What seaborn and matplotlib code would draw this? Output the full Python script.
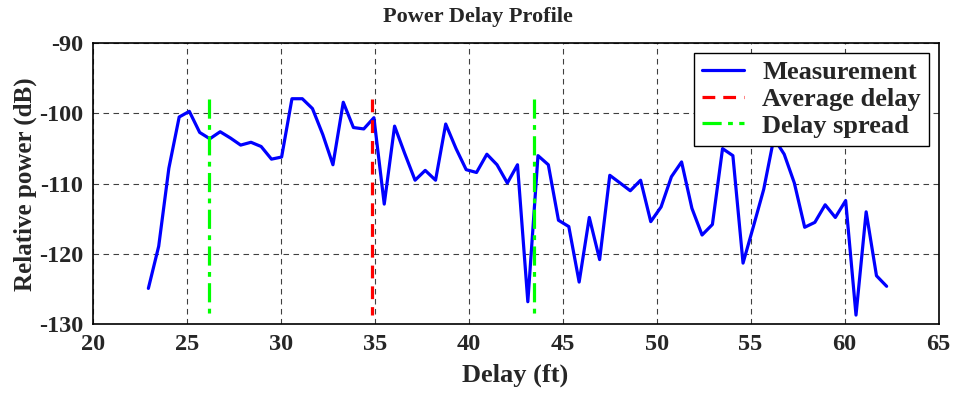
import numpy as np
import pandas as pd
import matplotlib
matplotlib.use("Agg")
import matplotlib.pyplot as plt
import seaborn as sns

delay_ft = [22.96, 23.51, 24.05, 24.60, 25.14, 25.69, 26.23, 26.78, 27.33, 27.87,
            28.42, 28.96, 29.51, 30.05, 30.60, 31.15, 31.69, 32.24, 32.78, 33.33,
            33.87, 34.42, 34.96, 35.51, 36.06, 36.60, 37.15, 37.69, 38.24, 38.78,
            39.33, 39.87, 40.42, 40.97, 41.51, 42.06, 42.60, 43.15, 43.69, 44.24,
            44.78, 45.33, 45.88, 46.42, 46.97, 47.51, 48.06, 48.60, 49.15, 49.69,
            50.24, 50.79, 51.33, 51.88, 52.42, 52.97, 53.51, 54.06, 54.60, 55.15,
            55.70, 56.24, 56.79, 57.33, 57.88, 58.42, 58.97, 59.51, 60.06, 60.61,
            61.15, 61.70, 62.24]
power_db = [-124.9, -118.9, -107.8, -100.5, -99.7, -102.7, -103.6, -102.6, -103.5, -104.5,
            -104.1, -104.7, -106.5, -106.2, -97.9, -97.9, -99.3, -103.0, -107.3, -98.4,
            -102.0, -102.2, -100.6, -112.9, -101.8, -105.7, -109.5, -108.1, -109.5, -101.5,
            -105.0, -108.0, -108.4, -105.8, -107.3, -109.9, -107.3, -126.8, -106.0, -107.3,
            -115.2, -116.1, -124.0, -114.8, -120.8, -108.8, -109.9, -111.0, -109.5, -115.4,
            -113.3, -109.0, -106.9, -113.5, -117.3, -115.8, -105.0, -106.0, -121.3, -116.1,
            -110.8, -103.5, -105.8, -109.9, -116.2, -115.5, -113.0, -114.8, -112.4, -128.7,
            -114.0, -123.1, -124.6]
avg_delay = 34.84
spread_lo = 26.19
spread_hi = 43.48
marker_top = -97.9
marker_bottom = -128.7

sns.set_style("white")
plt.rcParams['font.family'] = ['Liberation Serif', 'DejaVu Serif']
plt.rcParams['font.weight'] = 'bold'
plt.rcParams['axes.unicode_minus'] = False

fig = plt.figure(figsize=(9.56, 3.93), dpi=100)
ax = fig.add_axes([0.097, 0.175, 0.8847, 0.715])

df = pd.DataFrame({"Delay": delay_ft, "Power": power_db})
sns.lineplot(data=df, x="Delay", y="Power", ax=ax, color=(0, 0, 1), linewidth=2.3,
             label="Measurement", zorder=3)
df_avg = pd.DataFrame({"Delay": [avg_delay, avg_delay], "Power": [marker_top, marker_bottom]})
sns.lineplot(data=df_avg, x="Delay", y="Power", ax=ax, color=(1, 0, 0), linewidth=2.3,
             label="Average delay", zorder=4, estimator=None, sort=False)
ax.lines[-1].set_dashes([4, 2.5])
for i, xv in enumerate([spread_lo, spread_hi]):
    df_sp = pd.DataFrame({"Delay": [xv, xv], "Power": [marker_top, marker_bottom]})
    sns.lineplot(data=df_sp, x="Delay", y="Power", ax=ax, color=(0, 1, 0), linewidth=2.3,
                 label="Delay spread" if i == 0 else None, zorder=4, estimator=None, sort=False)
    ax.lines[-1].set_dashes([6, 2, 1.5, 2])

ax.set_xlim(20, 65)
ax.set_ylim(-130, -90)
ax.set_xticks([20, 25, 30, 35, 40, 45, 50, 55, 60, 65])
ax.set_yticks([-130, -120, -110, -100, -90])
ax.grid(True, color='black', linestyle=(0, (5, 4)), linewidth=0.8, alpha=0.75)
ax.tick_params(direction='in', length=5, labelsize=17.5, width=1, pad=7)
for lab in ax.get_xticklabels() + ax.get_yticklabels():
    lab.set_fontweight('bold')
for s in ax.spines.values():
    s.set_color('black')
    s.set_linewidth(1.2)

ax.set_xlabel("Delay (ft)", fontsize=19, fontweight='bold', labelpad=6)
ax.set_ylabel("Relative power (dB)", fontsize=18, fontweight='bold', labelpad=1)
ax.set_title("Power Delay Profile", fontsize=16, fontweight='bold', pad=15, x=0.4556)

handles, labels = ax.get_legend_handles_labels()
leg = ax.legend(handles, labels, loc='upper right', frameon=True,
                fancybox=False, edgecolor='black', framealpha=1,
                borderpad=0.3, labelspacing=0.12, handlelength=1.6, handletextpad=0.7,
                borderaxespad=0,
                bbox_to_anchor=(0.9888, 0.9655), prop={'weight': 'bold', 'size': 19})
leg.get_frame().set_linewidth(1.0)

fig.savefig("out.png", dpi=100)
